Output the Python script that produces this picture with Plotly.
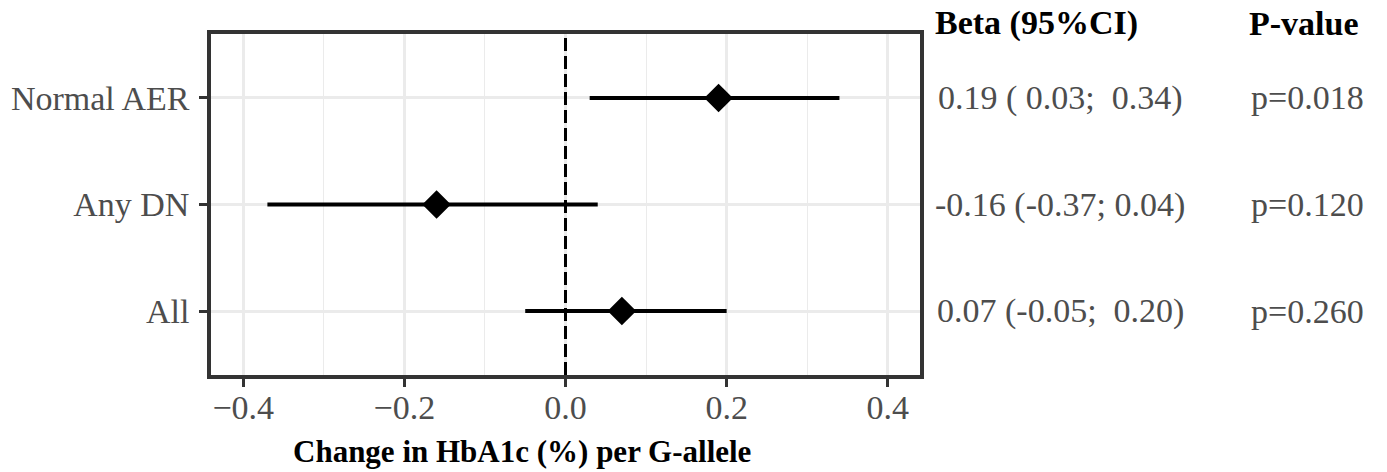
import plotly.graph_objects as go

# ---- data ----
groups = ["All", "Any DN", "Normal AER"]
beta = [0.07, -0.16, 0.19]
ci_low = [-0.05, -0.37, 0.03]
ci_high = [0.20, 0.04, 0.34]
beta_labels = ["0.07 (-0.05;  0.20)", "-0.16 (-0.37; 0.04)", "0.19 ( 0.03;  0.34)"]
p_labels = ["p=0.260", "p=0.120", "p=0.018"]
x_ticks = [-0.4, -0.2, 0.0, 0.2, 0.4]
x_ticktext = ["\u22120.4", "\u22120.2", "0.0", "0.2", "0.4"]
x_title = "Change in HbA1c (%) per G-allele"
header_beta = "Beta (95%CI)"
header_p = "P-value"

# ---- layout geometry (pixels) ----
W, H = 1387, 472
L, R, T, B = 211, 920, 34, 375
FONT = "Liberation Serif, Times New Roman, serif"
GREY = "#4D4D4D"
DARK = "#333333"

def px_x(p):
    return (p - L) / (R - L)

def px_y(p):
    return (B - p) / (B - T)

ypos = list(range(1, len(groups) + 1))

fig = go.Figure()
fig.add_trace(go.Scatter(
    x=beta, y=ypos, mode="markers",
    marker=dict(symbol="diamond", size=22, color="black"),
    error_x=dict(type="data", symmetric=False,
                 array=[h - b for h, b in zip(ci_high, beta)],
                 arrayminus=[b - l for b, l in zip(beta, ci_low)],
                 width=0, thickness=4, color="black"),
    showlegend=False, hoverinfo="skip",
))

fig.add_shape(type="line", xref="x", yref="paper", x0=0, x1=0, y0=0, y1=1,
              line=dict(color="black", width=3, dash="13px,5px"), layer="above")

annotations = []
for yv, bl, pl in zip(ypos, beta_labels, p_labels):
    annotations.append(dict(xref="paper", yref="y", x=px_x(1060), y=yv, text=bl.replace(" ", "\u00a0"),
                            showarrow=False, xanchor="center", yanchor="middle",
                            font=dict(family=FONT, size=34, color=GREY)))
    annotations.append(dict(xref="paper", yref="y", x=px_x(1307), y=yv, text=pl,
                            showarrow=False, xanchor="center", yanchor="middle",
                            font=dict(family=FONT, size=34, color=GREY)))
annotations.append(dict(xref="paper", yref="paper", x=px_x(1036), y=px_y(23), text="<b>%s</b>" % header_beta,
                        showarrow=False, xanchor="center", yanchor="middle",
                        font=dict(family=FONT, size=34, color="black")))
annotations.append(dict(xref="paper", yref="paper", x=px_x(1304), y=px_y(23), text="<b>%s</b>" % header_p,
                        showarrow=False, xanchor="center", yanchor="middle",
                        font=dict(family=FONT, size=34, color="black")))
annotations.append(dict(xref="paper", yref="paper", x=px_x(522), y=px_y(451), text="<b>%s</b>" % x_title,
                        showarrow=False, xanchor="center", yanchor="middle",
                        font=dict(family=FONT, size=31, color="black")))

fig.update_layout(
    width=W, height=H,
    margin=dict(l=L, r=W - R, t=T, b=H - B, pad=0),
    plot_bgcolor="white", paper_bgcolor="white",
    font=dict(family=FONT, size=34, color=GREY),
    annotations=annotations,
)
fig.update_xaxes(
    range=[-0.44, 0.44], tickvals=x_ticks, ticktext=x_ticktext,
    showgrid=True, gridcolor="#EBEBEB", gridwidth=2.5,
    minor=dict(dtick=0.1, tick0=-0.3, showgrid=True, gridcolor="#EBEBEB", gridwidth=1.2, ticks=""),
    showline=True, linecolor=DARK, linewidth=3.5, mirror=True,
    ticks="outside", ticklen=8, tickwidth=3, tickcolor=DARK,
    tickfont=dict(family=FONT, size=34, color=GREY),
    ticklabelstandoff=-9,
    zeroline=False,
)
fig.update_yaxes(
    range=[0.4, 3.6], tickvals=ypos, ticktext=groups,
    showgrid=True, gridcolor="#EBEBEB", gridwidth=2.7,
    showline=True, linecolor=DARK, linewidth=3.5, mirror=True,
    ticks="outside", ticklen=8, tickwidth=3, tickcolor=DARK,
    tickfont=dict(family=FONT, size=34, color=GREY),
    ticklabelstandoff=3,
    zeroline=False,
)

fig.write_html("out.html")
